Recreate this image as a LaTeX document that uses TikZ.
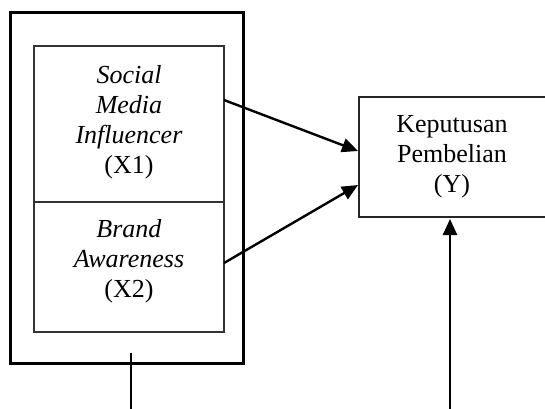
\documentclass[tikz,border=0pt]{standalone}
\usepackage{fontspec}
\setmainfont{Liberation Serif}
\usetikzlibrary{arrows.meta}
\begin{document}
\begin{tikzpicture}[x=0.5pt,y=-0.5pt,
  txt/.style={font=\fontsize{13}{15}\selectfont, align=center, inner sep=0pt},
  inbox/.style={draw=black!80, line width=0.6pt},
  arr/.style={line width=1.2pt, -{Triangle[length=8pt,width=7pt]}}]
\useasboundingbox (0,0) rectangle (545,408);
\clip (0,0) rectangle (545,408);
% outer box
\draw[line width=1.5pt] (10,12) rectangle (243,363);
% inner boxes
\draw[inbox] (34,46) rectangle (224,202);
\draw[inbox] (34,202) rectangle (224,332);
\node[txt] (X1) at (129,122) {\textit{Social}\\ \textit{Media}\\ \textit{Influencer}\\ (X1)};
\node[txt] (X2) at (129,261) {\textit{Brand}\\ \textit{Awareness}\\ (X2)};
% Y box
\draw[line width=0.6pt, draw=black!85] (359,97) rectangle (560,217);
\node[txt] (Y) at (452,157) {Keputusan\\ Pembelian\\ (Y)};
\coordinate (a1s) at (224,100);
\coordinate (a1e) at (358,151);
\coordinate (a2s) at (224,263);
\coordinate (a2e) at (358,185);
\draw[arr] (a1s) -- (a1e);
\draw[arr] (a2s) -- (a2e);
\coordinate (b2) at (450,410);
\coordinate (b2e) at (450,219);
\draw[arr] (b2) -- (b2e);
\coordinate (b1) at (131,410);
\coordinate (t1) at (131,353);
\draw[line width=0.65pt] (b1) -- (t1);
\end{tikzpicture}
\end{document}
